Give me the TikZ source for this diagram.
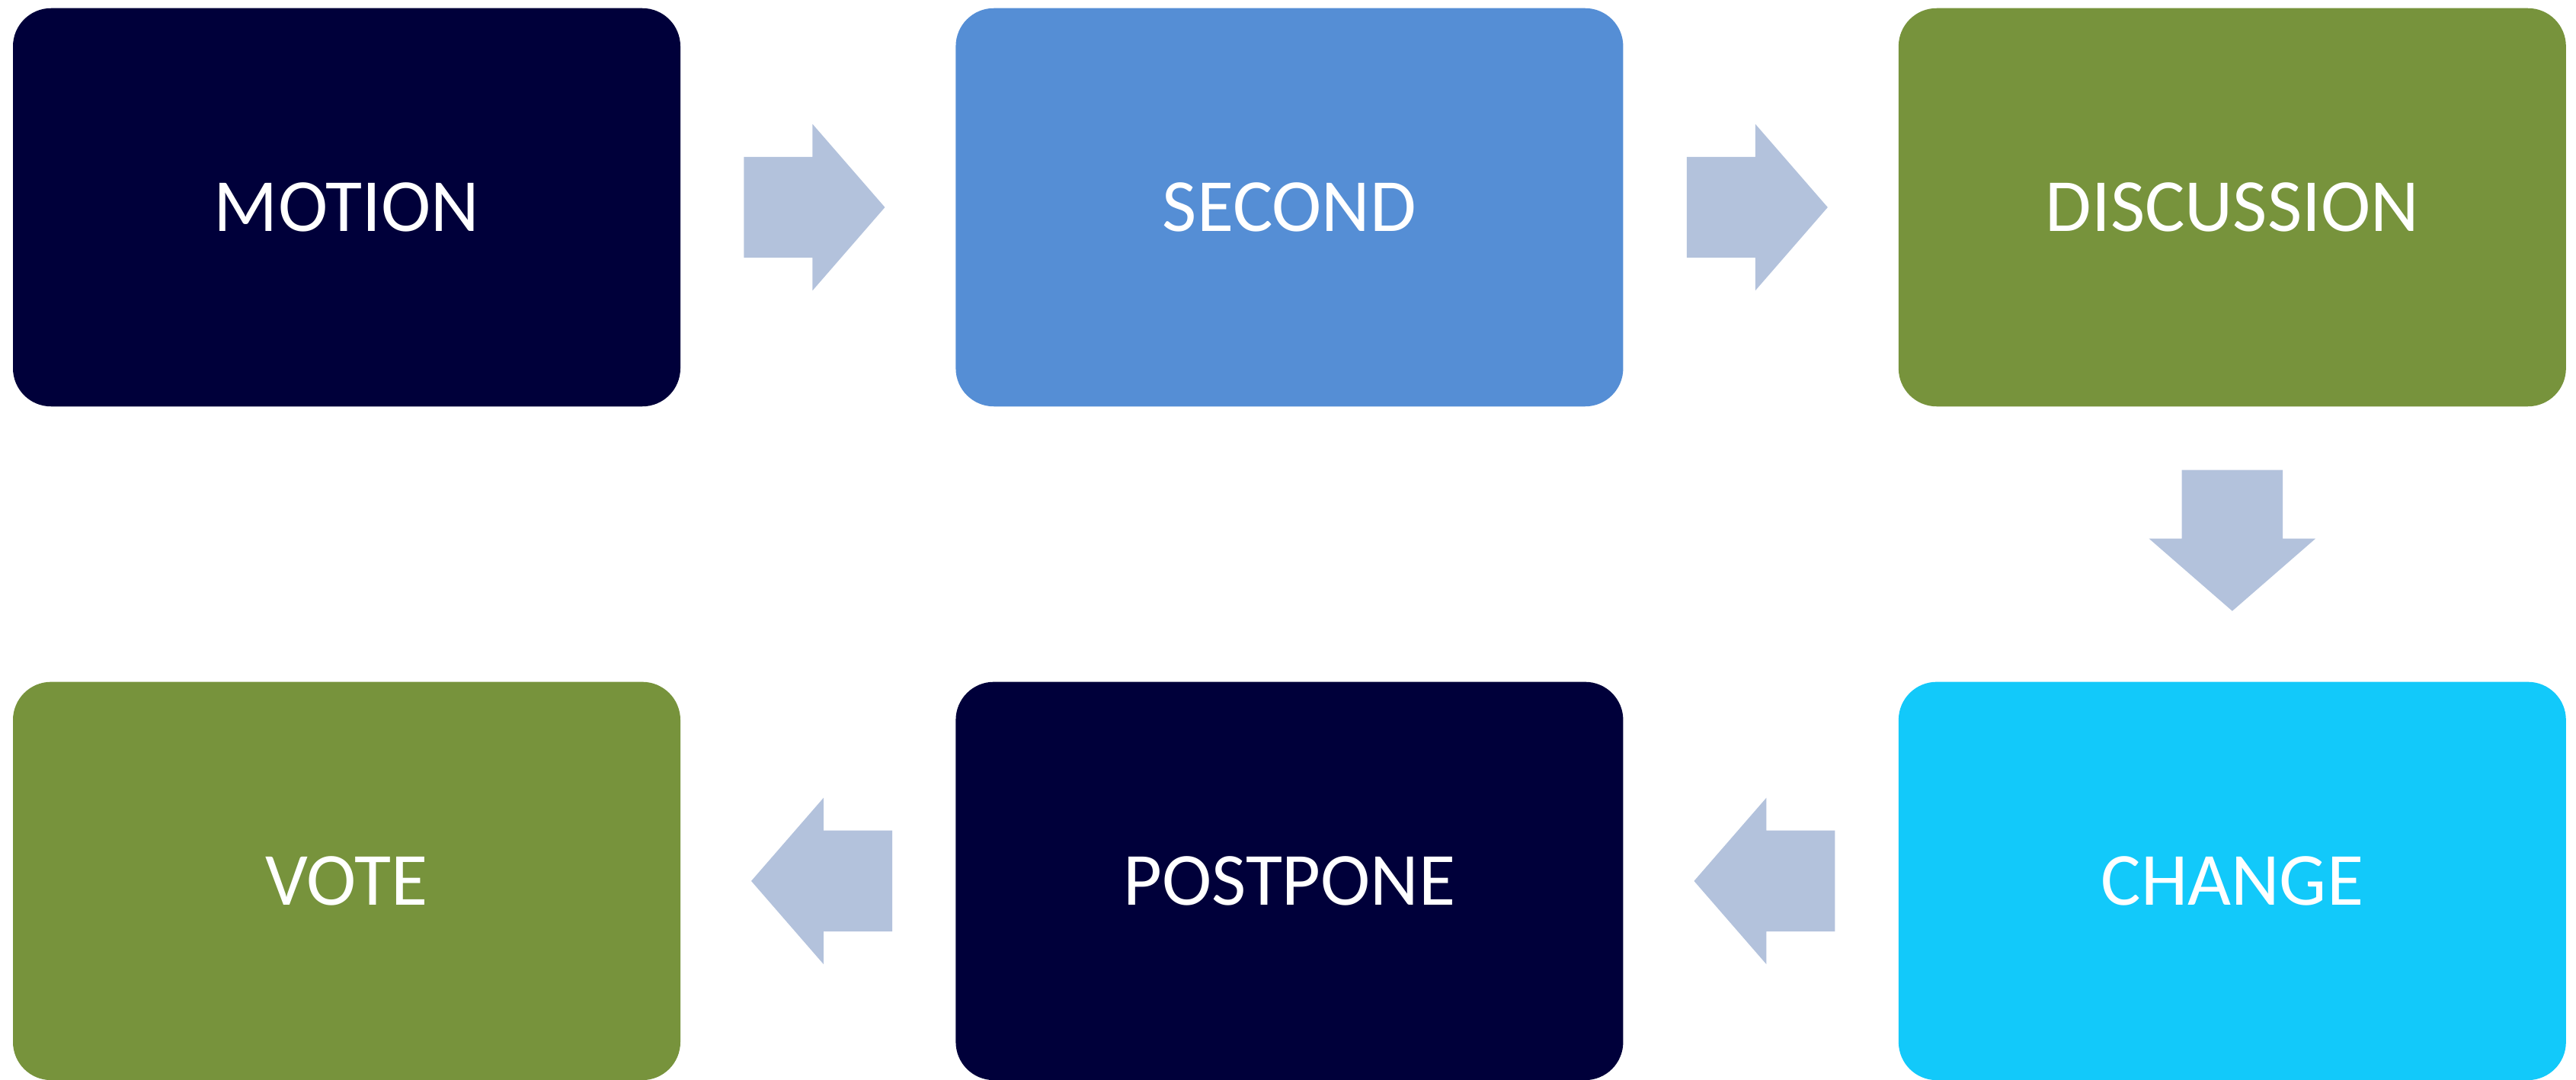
\documentclass[tikz,border=0pt]{standalone}
\usepackage{fontspec}
\setmainfont{Carlito}
\usetikzlibrary{
	positioning		% Allows right=of style positioning
	, shapes.arrows	% Block arrows between the stages
	, calc
}
\definecolor{navy}{HTML}{00003A}
\definecolor{skyblue}{HTML}{558ED5}
\definecolor{olive}{HTML}{77933C}
\definecolor{brightcyan}{HTML}{12C9FA}
\definecolor{arrowgrey}{HTML}{B3C2DC}

\begin{document}
\begin{tikzpicture}[
			stage/.style={
				rectangle,
				rounded corners=0.5cm,
				minimum width=8.76cm,
				minimum height=5.225cm,
				text=white,
				font=\fontsize{28}{34}\selectfont,
				text centered
			},
			flow/.style={
				single arrow,
				fill=arrowgrey,
				inner xsep=0pt,
				inner ysep=0.655cm,
				minimum height=1.85cm,
				single arrow head extend=0.43cm,
				single arrow tip angle=98,
				anchor=tail
			}]

		\useasboundingbox (0,0) rectangle (33.81,14.16);

		%%% Top row runs left to right, bottom row runs back
		\node [stage, fill=navy] (motion) at (4.55,11.44) {MOTION};
		\node [stage, fill=skyblue, right=3.6cm of motion] (second) {SECOND};
		\node [stage, fill=olive, right=3.6cm of second] (discussion) {DISCUSSION};
		\node [stage, fill=brightcyan, below=3.6cm of discussion] (change) {CHANGE};
		\node [stage, fill=navy, left=3.6cm of change] (postpone) {POSTPONE};
		\node [stage, fill=olive, left=3.6cm of postpone] (vote) {VOTE};

		%%% Block arrows leading out of each stage
		\foreach \from/\dir in {motion/0, second/0, discussion/270, change/180, postpone/180} {
			\node [flow, rotate=\dir] (arrow\from) at ($(\from.\dir)+(\dir:0.82cm)$) {};
		};

	\end{tikzpicture}
\end{document}
